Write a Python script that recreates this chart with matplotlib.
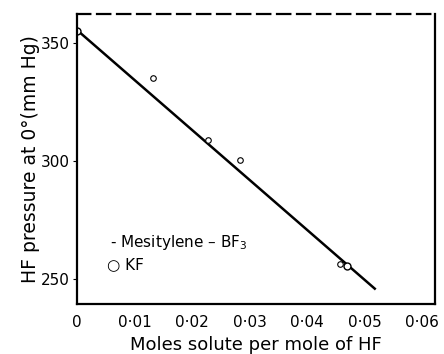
import matplotlib
matplotlib.use("Agg")
import matplotlib.pyplot as plt

# data
mes_x = [0.0, 0.0132, 0.0228, 0.0283, 0.0457]
mes_y = [355.0, 335.0, 309.0, 300.5, 256.5]
kf_x = [0.0, 0.0470]
kf_y = [355.0, 255.5]
fit_x = [0.0, 0.0518]
fit_y = [355.5, 246.0]
xticks = [0, 0.01, 0.02, 0.03, 0.04, 0.05, 0.06]
xticklabels = ["0", "0·01", "0·02", "0·03", "0·04", "0·05", "0·06"]
yticks = [250, 300, 350]

fig = plt.figure(figsize=(4.44, 3.54), dpi=100)
ax = fig.add_axes([0.1734, 0.1412, 0.8066, 0.8193])
ax.plot(fit_x, fit_y, color="black", lw=1.8)
ax.plot(mes_x, mes_y, ls="none", marker="o", ms=4, mfc="white", mec="black", mew=0.8)
ax.plot(kf_x, kf_y, ls="none", marker="o", ms=5, mfc="white", mec="black", mew=1.0)

ax.set_xlim(0, 0.0623)
ax.set_ylim(239.5, 362.3)
ax.set_xticks(xticks)
ax.set_xticklabels(xticklabels)
ax.set_yticks(yticks)
ax.tick_params(axis="x", length=0, labelsize=11, pad=8)
ax.tick_params(axis="y", length=3, labelsize=11, pad=2)
for s in ax.spines.values():
    s.set_linewidth(1.6)
ax.spines["top"].set_linestyle((0, (6, 3)))

ax.set_xlabel("Moles solute per mole of HF", fontsize=13, labelpad=4)
ax.set_ylabel("HF pressure at 0°(mm Hg)", fontsize=13.5, labelpad=1)

ax.text(0.0057, 265.5, "- Mesitylene – BF$_3$", fontsize=11, va="center")
ax.text(0.0052, 256.0, "○ KF", fontsize=11, va="center")

fig.savefig("out.png", dpi=100)
